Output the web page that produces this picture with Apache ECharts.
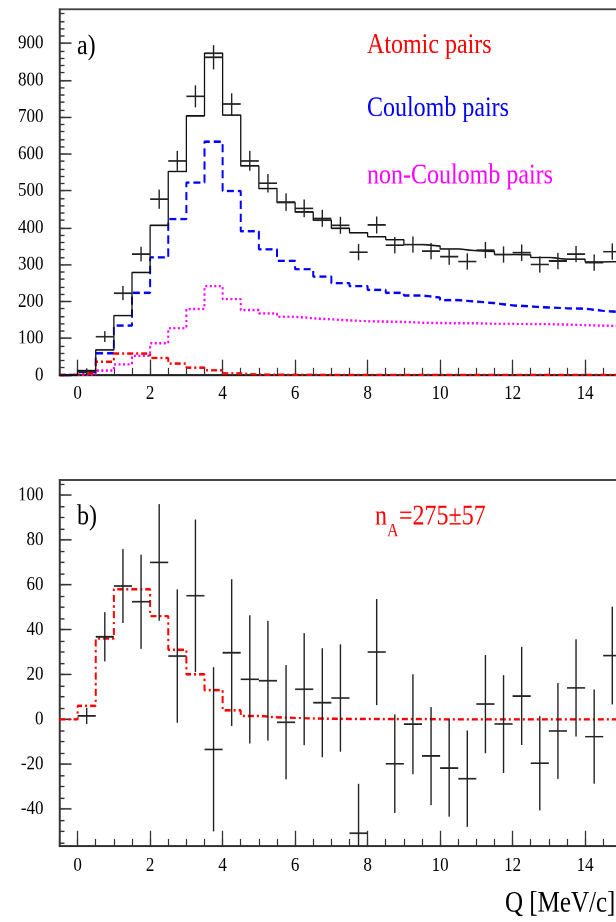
<!DOCTYPE html>
<html>
<head>
<meta charset="utf-8">
<script src="https://cdn.jsdelivr.net/npm/echarts@6/dist/echarts.min.js"></script>
<style>
  html, body { margin: 0; padding: 0; width: 616px; height: 922px; overflow: hidden; background: #fff; }
  /* the source picture is stretched vertically, so draw flat and stretch */
  #chart { width: 700px; height: 781.4px; transform: scaleY(1.18); transform-origin: 0 0; }
</style>
</head>
<body>
<div id="chart"></div>
<script>
// bins of 0.5 MeV/c starting at Q = 0
const binW = 0.5;
const xTicks = [0, 2, 4, 6, 8, 10, 12, 14];
const yTicksA = [0, 100, 200, 300, 400, 500, 600, 700, 800, 900];
const yTicksB = [-40, -20, 0, 20, 40, 60, 80, 100];

// panel a)
const dataA = [9, 104, 222, 328, 477, 581, 756, 862, 735, 581, 520, 469, 452, 425, 406, 333, 407, 352, 354, 336, 321, 308, 339, 327, 332, 300, 309, 328, 305, 335];
const errA = [9, 15, 19, 20, 26, 27, 30, 33, 29, 27, 25, 24, 24, 23, 23, 22, 23, 22, 22, 22, 22, 22, 22, 22, 22, 22, 22, 22, 22, 22];
const totalA = [12, 68, 161, 278, 406, 552, 703, 873, 705, 567, 506, 468, 442, 420, 398, 386, 375, 367, 354, 350, 342, 337, 335, 327, 326, 319, 314, 314, 307, 308];
const coulombA = [8, 59, 134, 223, 319, 423, 522, 633, 499, 390, 341, 310, 287, 267, 249, 241, 231, 223, 216, 210, 203, 199, 195, 189, 186, 183, 181, 180, 174, 171];
const nonCoulombA = [2, 12, 29, 52, 86, 127, 179, 241, 206, 176, 167, 158, 154, 151, 148, 146, 145, 144, 142, 141, 140, 140, 139, 139, 138, 138, 137, 135, 134, 133];
const atomic = [6, 36, 58, 58, 46, 31, 20, 13, 4, 1.5, 0.9, 0.6, 0.4, 0.3, 0.2, 0.2, 0.1, 0.1, 0.1, 0, 0, 0, 0, 0, 0, 0, 0, 0, 0, 0];

// panel b) residuals
const dataB = [1.5, 36.8, 59.4, 52.4, 70, 28.2, 55.1, -13.4, 29.7, 17.8, 17.2, -1.3, 13.4, 7.4, 9.5, -50.8, 30, -19.8, -2.2, -16.4, -21.7, -26.5, 6.8, -2.1, 10.4, -19.6, -5.2, 14, -7.7, 28.4];
const errB = [3.6, 11, 16.5, 21, 26, 29.7, 34, 36.6, 32.7, 28.6, 26.7, 25.5, 25, 24.3, 23.9, 22, 23.7, 22, 22.3, 21.9, 21.7, 21.5, 21.9, 21.8, 21.9, 21, 21.3, 21.7, 21, 21.8];

const xMin = -0.5, xMax = 16;
const yMinA = 0, yMaxA = 992;
const yMinB = -56.5, yMaxB = 106.7;

const S = 1.18; // vertical stretch
const font = '"Liberation Serif", serif';

function range(a, b, step) {
  let out = [];
  for (let v = a; v <= b + 1e-9; v += step) out.push(Math.round(v * 100) / 100);
  return out;
}

function steps(vals) {
  let pts = [[xMin, 0]];
  vals.forEach(function (v, i) { pts.push([i * binW, v]); });
  pts.push([vals.length * binW, vals[vals.length - 1]]);
  return pts;
}

function points(vals, errs) {
  return vals.map(function (v, i) { return [i * binW + binW / 2, v, errs[i]]; });
}

function crosses(lo, hi) {
  return function (params, api) {
    let x = api.value(0), y = api.value(1), e = api.value(2);
    let l = api.coord([x - binW / 2, y]);
    let r = api.coord([x + binW / 2, y]);
    let t = api.coord([x, Math.min(y + e, hi)]);
    let b = api.coord([x, Math.max(y - e, lo)]);
    let st = { stroke: '#222', lineWidth: 1.4 };
    return {
      type: 'group',
      children: [
        { type: 'line', shape: { x1: l[0], y1: l[1], x2: r[0], y2: r[1] }, style: st },
        { type: 'line', shape: { x1: t[0], y1: t[1], x2: b[0], y2: b[1] }, style: st }
      ]
    };
  };
}

function tickLabel(ticks, margin) {
  return { customValues: ticks, margin: margin, color: '#000', fontFamily: font, fontSize: 17 };
}

function xMajor(grid, margin) {
  return {
    type: 'value', gridIndex: grid, min: xMin, max: xMax, position: 'bottom',
    axisLine: { onZero: false, lineStyle: { color: '#222', width: 1.5 } },
    axisTick: { inside: true, length: 13, customValues: xTicks, lineStyle: { color: '#333', width: 1.3 } },
    axisLabel: tickLabel(xTicks, margin),
    splitLine: { show: false }
  };
}

function xMinor(grid) {
  return {
    type: 'value', gridIndex: grid, min: xMin, max: xMax, position: 'bottom', offset: 0,
    axisLine: { show: false, onZero: false },
    axisTick: { inside: true, length: 6, customValues: range(-0.5, 16, 0.5), lineStyle: { color: '#333', width: 1.2 } },
    axisLabel: { show: false },
    splitLine: { show: false }
  };
}

function yMajor(grid, lo, hi, ticks) {
  return {
    type: 'value', gridIndex: grid, min: lo, max: hi, position: 'left',
    axisLine: { onZero: false, lineStyle: { color: '#333', width: 1.5 } },
    axisTick: { inside: true, length: 12, customValues: ticks, lineStyle: { color: '#333', width: 1.3 } },
    axisLabel: tickLabel(ticks, 16),
    splitLine: { show: false }
  };
}

function yMinor(grid, lo, hi, ticks) {
  return {
    type: 'value', gridIndex: grid, min: lo, max: hi, position: 'left', offset: 0,
    axisLine: { show: false, onZero: false },
    axisTick: { inside: true, length: 5, customValues: ticks, lineStyle: { color: '#333', width: 1.2 } },
    axisLabel: { show: false },
    splitLine: { show: false }
  };
}

function stepLine(name, vals, xi, yi, color, width, dash, z) {
  return {
    name: name, type: 'line', step: 'end', xAxisIndex: xi, yAxisIndex: yi,
    data: steps(vals), showSymbol: false, symbol: 'none', z: z, silent: true,
    lineStyle: { color: color, width: width, type: dash }
  };
}

function label(text, x, y, color, size) {
  return {
    type: 'text', x: x, y: (y + 2) / S, silent: true,
    style: { text: text, fill: color, font: size + 'px ' + font, align: 'left', verticalAlign: 'middle' }
  };
}

let myChart = echarts.init(document.getElementById('chart'), null, { renderer: 'canvas', devicePixelRatio: 2 });
let option = {
  animation: false,
  textStyle: { fontFamily: font },
  grid: [
    { left: 59.5, right: 42.4, top: 9.3 / S, height: (375 - 9.3) / S, show: true, borderColor: '#444', borderWidth: 1.5, containLabel: false, outerBoundsMode: 'none' },
    { left: 59.5, right: 42.4, top: 480 / S, height: (846 - 480) / S, show: true, borderColor: '#444', borderWidth: 1.5, containLabel: false, outerBoundsMode: 'none' }
  ],
  xAxis: [xMajor(0, 7), xMinor(0), xMajor(1, 8), xMinor(1)],
  yAxis: [
    yMajor(0, yMinA, yMaxA, yTicksA),
    yMinor(0, yMinA, yMaxA, range(0, 980, 20)),
    yMajor(1, yMinB, yMaxB, yTicksB),
    yMinor(1, yMinB, yMaxB, range(-55, 105, 5))
  ],
  series: [
    stepLine('non-Coulomb pairs', nonCoulombA, 0, 0, '#ff00ff', 2, [2, 2.5], 2),
    stepLine('Coulomb pairs', coulombA, 0, 0, '#0000ff', 2, [7, 4], 3),
    stepLine('Atomic pairs', atomic, 0, 0, '#ff0000', 2, [6, 3, 2, 3], 4),
    stepLine('total', totalA, 0, 0, '#111', 1.3, 'solid', 5),
    {
      name: 'data a', type: 'custom', xAxisIndex: 0, yAxisIndex: 0, z: 6,
      renderItem: crosses(yMinA, yMaxA), data: points(dataA, errA)
    },
    stepLine('fit', atomic, 2, 2, '#ff0000', 2, [6, 3, 2, 3], 4),
    {
      name: 'data b', type: 'custom', xAxisIndex: 2, yAxisIndex: 2, z: 6,
      renderItem: crosses(yMinB, yMaxB), data: points(dataB, errB)
    }
  ],
  graphic: [
    label('a)', 77, 45, '#000', 24),
    label('Atomic pairs', 367, 43.8, '#ff0000', 24),
    label('Coulomb pairs', 367, 106.7, '#0000ff', 24),
    label('non-Coulomb pairs', 367, 174, '#ff00ff', 24),
    label('b)', 77, 515, '#000', 24),
    label('n', 375, 515, '#ff0000', 24),
    label('A', 387, 529.5, '#ff0000', 16),
    label('=275±57', 399, 515, '#ff0000', 24),
    label('Q [MeV/c]', 505, 901.7, '#000', 25)
  ]
};
myChart.setOption(option);
</script>
</body>
</html>
